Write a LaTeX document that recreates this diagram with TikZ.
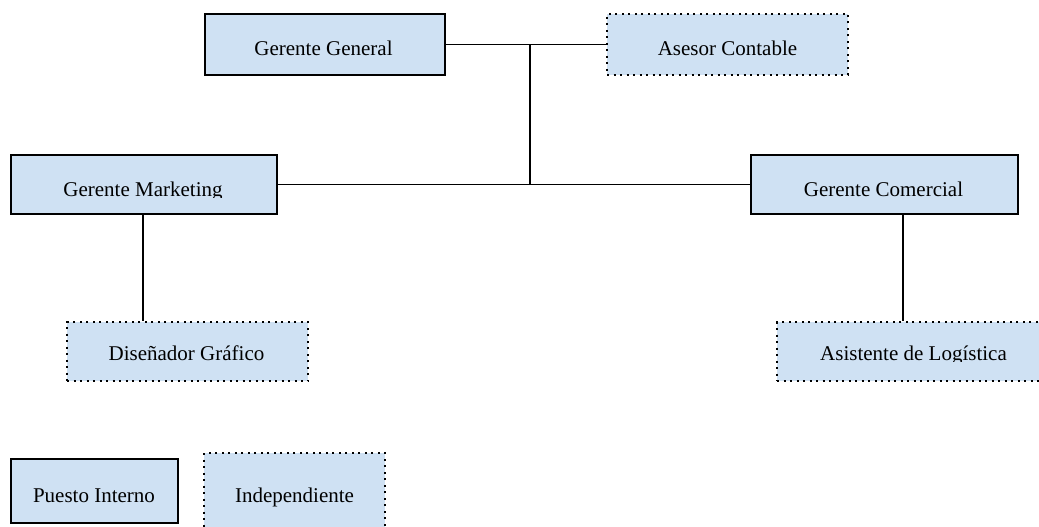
\documentclass[tikz,border=0pt]{standalone}
\usepackage{fontspec}
\setmainfont{Liberation Serif}
\definecolor{boxfill}{RGB}{207,225,243}
\begin{document}
\begin{tikzpicture}[x=1pt,y=-1pt,
  inner/.style={draw=black,line width=1.8pt,fill=boxfill,rectangle,inner sep=0pt},
  indep/.style={draw=black,line width=2pt,dash pattern=on 2pt off 4.5pt,fill=boxfill,rectangle,inner sep=0pt},
  lbl/.style={anchor=base,inner sep=0pt,font=\fontsize{21}{24}\selectfont},
  conn/.style={line width=1.5pt,draw=black}]
\useasboundingbox (0,0) rectangle (1039,527);
\clip (0,0) rectangle (1039,527);
% boxes
\node[inner,minimum width=240pt,minimum height=61pt] (GG) at (325,44.5) {};
\node[indep,minimum width=241pt,minimum height=61pt] (AC) at (727.5,44.5) {};
\node[inner,minimum width=266pt,minimum height=59pt] (GM) at (144,184.5) {};
\node[inner,minimum width=267pt,minimum height=59pt] (GC) at (884.5,184.5) {};
\node[indep,minimum width=241pt,minimum height=59pt] (DG) at (187.5,351.5) {};
\node[indep,minimum width=273pt,minimum height=59pt] (AL) at (913.5,351.5) {};
\node[inner,minimum width=167pt,minimum height=64pt] (PI) at (94.5,491) {};
\node[indep,minimum width=181pt,minimum height=80pt] (IN) at (294.5,493) {};
% labels
\node[lbl] (tGG) at (323.5,56) {Gerente General};
\node[lbl] (tAC) at (727.5,56) {Asesor Contable};
\begin{scope}
\clip (0,150) rectangle (1039,197.5);
\node[lbl] (tGM) at (143,196.5) {Gerente Marketing};
\node[lbl] (tGC) at (883.5,196.5) {Gerente Comercial};
\end{scope}
\node[lbl] (tDG) at (186.5,360) {Diseñador Gráfico};
\begin{scope}
\clip (700,320) rectangle (1039,361);
\node[lbl] (tAL) at (913.5,360) {Asistente de Logística};
\end{scope}
\node[lbl] (tPI) at (94,502) {Puesto Interno};
\node[lbl] (tIN) at (294.5,502) {Independiente};
% connectors
\coordinate (j1) at (530,44.5);
\coordinate (j2) at (530,184.5);
\draw[conn] (GG.east) -- (AC.west);
\draw[conn] (j1) -- (j2);
\draw[conn] (GM.east) -- (GC.west);
\draw[conn] ([xshift=-1pt]GM.south) -- ([xshift=-1pt]GM.south |- DG.north);
\draw[conn] ([xshift=18.5pt]GC.south) -- ([xshift=18.5pt]GC.south |- AL.north);
\end{tikzpicture}
\end{document}
